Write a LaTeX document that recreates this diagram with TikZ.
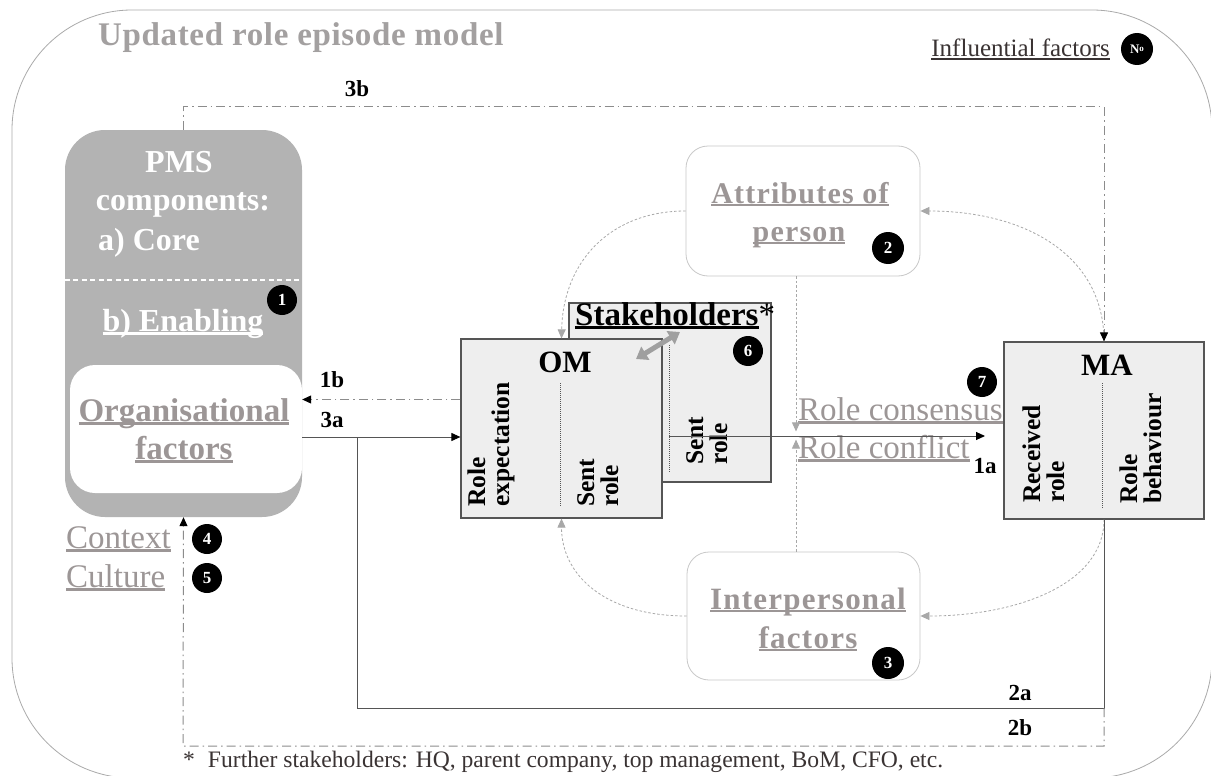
\documentclass[tikz,border=0pt]{standalone}
\usepackage{fontspec}
\setmainfont{Liberation Serif}
\newfontfamily\spacedfont[LetterSpace=4]{Liberation Serif}
\newfontfamily\sptwo[LetterSpace=2]{Liberation Serif}
\usetikzlibrary{arrows.meta}
\definecolor{txtgray}{HTML}{9C9696}
\definecolor{titlegray}{HTML}{A3A0A0}
\definecolor{pmsgray}{HTML}{B3B3B3}
\definecolor{boxfill}{HTML}{EEEEEE}
\definecolor{boxline}{HTML}{555555}
\definecolor{lightline}{HTML}{C8C8C8}
\definecolor{dotgray}{HTML}{A8A8A8}
\definecolor{dashgray}{HTML}{8C8C8C}
\definecolor{outergray}{HTML}{AAAAAA}
\definecolor{darktxt}{HTML}{3A3333}
\newcommand\myul[1]{\setbox0\hbox{#1}\rlap{\rule[-0.11em]{\wd0}{0.065em}}\box0}
\tikzset{
  badge/.style={circle,fill=black,inner sep=0pt,minimum size=30pt,text=white,font=\bfseries\fontsize{17}{17}\selectfont},
  numlbl/.style={anchor=base,inner sep=0pt,text=black,font=\bfseries\fontsize{23}{23}\selectfont},
  rot/.style={rotate=90,anchor=base west,inner sep=0pt,text=black,font=\bfseries\fontsize{25.5}{25.5}\selectfont},
  dashdot/.style={draw=dashgray,line width=1pt,dash pattern=on 9pt off 4pt on 1.5pt off 4pt},
  dotarc/.style={draw=dotgray,line width=0.8pt,dash pattern=on 2.5pt off 2pt},
  blk/.style={-{Triangle[length=9pt,width=8pt,color=black]}},
  grayhead/.style={-{Triangle[length=9pt,width=8pt,color=dotgray]}},
  rolebox/.style={draw=boxline,fill=boxfill,line width=1.2pt,inner sep=0pt},
  softbox/.style={draw=lightline,fill=white,line width=0.8pt,rounded corners=22pt,inner sep=0pt},
  plain/.style={inner sep=0pt},
}
\begin{document}
\begin{tikzpicture}[x=1pt,y=-1pt]
\useasboundingbox (0,0) rectangle (1211,776);
\clip (0,0) rectangle (1211,776);
\fill[white] (0,0) rectangle (1211,776);
% outer frame
\draw[outergray,line width=0.8pt,rounded corners=120pt] (12,10) rectangle (1212,778);

% title and legend
\node[plain,anchor=base west,text=titlegray,font=\sptwo\bfseries\fontsize{33}{33}\selectfont] (title) at (98,46) {Updated role episode model};
\node[plain,anchor=base east,text=darktxt,font=\fontsize{25}{25}\selectfont] (infl) at (1110,57) {\myul{Influential factors}};
\node[badge,minimum size=32pt] (bno) at (1137,49) {\fontsize{13}{13}\selectfont N\raisebox{2pt}{\fontsize{9}{9}\selectfont o}};

% boxes
\node[plain,fill=pmsgray,rounded corners=40pt,minimum width=237pt,minimum height=387pt] (pms) at (183.5,323.5) {};
\node[plain,fill=white,rounded corners=25pt,minimum width=232pt,minimum height=128pt] (org) at (186,429) {};
\node[softbox,minimum width=234pt,minimum height=130pt] (attr) at (803,211) {};
\node[softbox,minimum width=233pt,minimum height=128pt] (inter) at (803.5,616) {};
\node[rolebox,minimum width=202pt,minimum height=179pt] (stk) at (670,392.5) {};
\node[rolebox,minimum width=201pt,minimum height=179pt] (om) at (561.5,428.5) {};
\node[rolebox,minimum width=200pt,minimum height=177pt] (ma) at (1104,430.5) {};

% PMS texts
\draw[white,line width=1.6pt,dash pattern=on 5pt off 3.5pt] (pms.west |- 0,280) -- (pms.east |- 0,280);
\node[plain,anchor=base,text=white,font=\bfseries\fontsize{32}{32}\selectfont] (pmst) at (179,172) {PMS};
\node[plain,anchor=base,text=white,font=\bfseries\fontsize{32}{32}\selectfont] (compt) at (183,210) {components:};
\node[plain,anchor=base west,text=white,font=\bfseries\fontsize{32}{32}\selectfont] (coret) at (98,250) {a) Core};
\node[plain,anchor=base,text=white,font=\bfseries\fontsize{32}{32}\selectfont] (enabt) at (183,331) {\myul{b) Enabling}};
\node[plain,anchor=base,text=txtgray,font=\bfseries\fontsize{33}{33}\selectfont] (orgt1) at (184,421) {\myul{Organisational}};
\node[plain,anchor=base,text=txtgray,font=\bfseries\fontsize{33}{33}\selectfont] (orgt2) at (184,459) {\myul{factors}};

% attributes / interpersonal texts
\node[plain,anchor=base,text=txtgray,font=\spacedfont\bfseries\fontsize{30}{30}\selectfont] (attrt1) at (800,203) {\myul{Attributes of}};
\node[plain,anchor=base,text=txtgray,font=\spacedfont\bfseries\fontsize{30}{30}\selectfont] (attrt2) at (799,241) {\myul{person}};
\node[plain,anchor=base,text=txtgray,font=\spacedfont\bfseries\fontsize{31}{31}\selectfont] (intert1) at (808,609) {\myul{Interpersonal}};
\node[plain,anchor=base,text=txtgray,font=\spacedfont\bfseries\fontsize{31}{31}\selectfont] (intert2) at (808,648) {\myul{factors}};

% stakeholders content
\node[plain,anchor=base west,text=black,font=\bfseries\fontsize{33}{33}\selectfont] (stkt) at (575,325) {\myul{Stakeholders}{\mdseries *}};
\draw[boxline,line width=1pt,densely dotted] (669,345) -- (669,472);
\node[rot] (stks1) at (703,465) {Sent};
\node[rot] (stks2) at (727,465) {role};
\node[badge] (b6) at (748,351) {6};

% OM content (redraw box on top)
\node[rolebox,minimum width=201pt,minimum height=179pt] (om2) at (561.5,428.5) {};
\node[plain,anchor=base,text=black,font=\bfseries\fontsize{31}{31}\selectfont] (omt) at (565,372) {OM};
\draw[boxline,line width=1pt,densely dotted] (560,383) -- (560,507);
\node[rot] (omr1) at (485,507) {Role};
\node[rot] (omr2) at (509,507) {expectation};
\node[rot] (oms1) at (594,507) {Sent};
\node[rot] (oms2) at (618,507) {role};

% MA content
\node[plain,anchor=base,text=black,font=\bfseries\fontsize{31}{31}\selectfont] (mat) at (1107,375) {MA};
\draw[boxline,line width=1pt,densely dotted] (1102,383) -- (1102,509);
\node[rot] (mar1) at (1040,503) {Received};
\node[rot] (mar2) at (1064,503) {role};
\node[rot] (mab1) at (1137,504) {Role};
\node[rot] (mab2) at (1161,504) {behaviour};

% thick double arrow OM <-> stakeholders
\coordinate (dA) at (636,359);
\coordinate (dB) at (680,332);
\draw[line width=5pt,draw=gray!75,{Triangle[length=11pt,width=15pt]}-{Triangle[length=11pt,width=15pt]}] (dA) -- (dB);

% role consensus / conflict
\node[plain,anchor=base west,text=txtgray,font=\fontsize{33}{33}\selectfont] (cons) at (798,420) {\myul{Role consensus}};
\node[plain,anchor=base west,text=txtgray,font=\fontsize{33}{33}\selectfont] (conf) at (798,458) {\myul{Role conflict}};

% dotted influence connectors
\draw[dotarc,grayhead] ([xshift=-7pt]attr.south) -- ++(0,155);
\draw[dotarc,grayhead] ([xshift=-7.5pt]inter.north) -- ++(0,-112);
\draw[dotarc,grayhead] (attr.west) .. controls (610,211) and (563,262) .. (om.north);
\draw[dotarc,grayhead] (inter.west) .. controls (605,616) and (561.5,575) .. (om.south);
\draw[dotarc,grayhead] (ma.north) .. controls (1104,255) and (1025,211) .. (attr.east);
\draw[dotarc,grayhead] (ma.south) .. controls (1104,585) and (1015,616) .. (inter.east);

% 1a
\coordinate (s1a) at (669,436);
\coordinate (e1a) at (985,436);
\draw[blk,draw=boxline,line width=1pt] (s1a) -- (e1a);

% 3a and 2a
\draw[blk,draw=boxline,line width=1pt] ([yshift=-8pt]org.east) coordinate (a3) -- (a3 -| om.west);
\coordinate (c2a) at (357,708);
\draw[boxline,line width=1pt] (ma.south) |- (c2a) -- (c2a |- a3);

% 1b
\draw[dashdot,blk] ([yshift=29pt]om.west) coordinate (b1) -- (b1 -| org.east);

% 3b
\coordinate (c3b) at (183,107);
\draw[dashdot,blk] (pms.north) -- (pms.north |- c3b) -| (ma.north);

% 2b
\coordinate (c2b) at (183,746);
\draw[dashdot,blk] (ma.south |- c2a) |- (c2b) -- (pms.south);

% number labels
\node[numlbl] (l3b) at (357,96) {3b};
\node[numlbl] (l1b) at (332,387) {1b};
\node[numlbl] (l3a) at (332,427) {3a};
\node[numlbl] (l1a) at (985,473) {1a};
\node[numlbl] (l2a) at (1020,700) {2a};
\node[numlbl] (l2b) at (1020,735) {2b};

% context / culture
\node[plain,anchor=base west,text=txtgray,font=\fontsize{33}{33}\selectfont] (ctx) at (66,548) {\myul{Context}};
\node[plain,anchor=base west,text=txtgray,font=\fontsize{33}{33}\selectfont] (cul) at (66,587) {\myul{Culture}};

% badges
\node[badge] (b1) at (282,300) {1};
\node[badge,minimum size=32pt] (b2) at (888,248) {2};
\node[badge,minimum size=32pt] (b3) at (888,663) {3};
\node[badge] (b4) at (207,539) {4};
\node[badge] (b5) at (207,578) {5};
\node[badge] (b7) at (982,382) {7};

% footnote
\node[plain,anchor=base west,text=darktxt,font=\fontsize{23.6}{23.6}\selectfont] (foot) at (183,767) {*\hspace{0.55em}Further stakeholders: HQ, parent company, top management, BoM, CFO, etc.};
\end{tikzpicture}
\end{document}
